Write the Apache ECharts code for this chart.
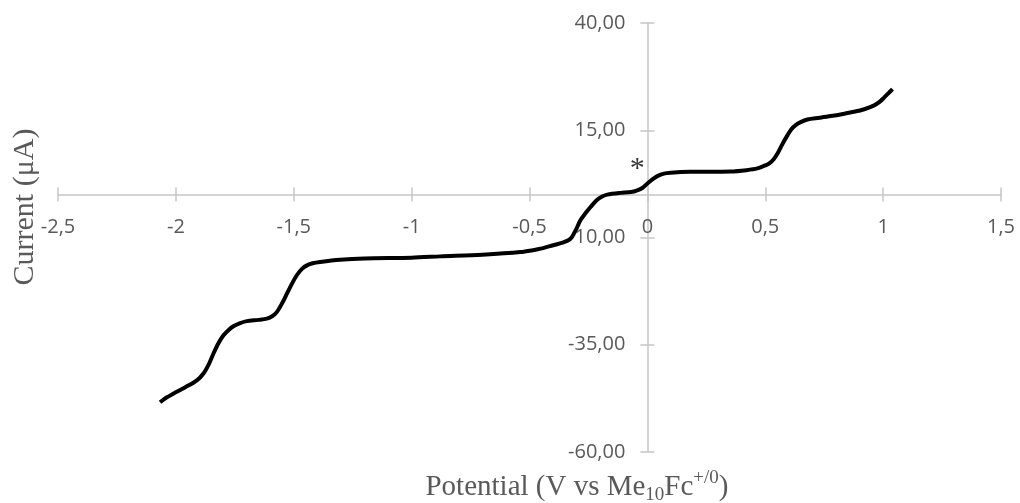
<!DOCTYPE html>
<html>
<head>
<meta charset="utf-8">
<script src="https://cdn.jsdelivr.net/npm/echarts@6/dist/echarts.min.js"></script>
<style>
html,body{margin:0;padding:0;background:#fff;}
#chart{width:1020px;height:503px;}
</style>
</head>
<body>
<div id="chart"></div>
<script>
// Potential (V vs Me10Fc+/0)
const potential = [
  -2.067, -2.04, -2.011, -1.96, -1.911, -1.883, -1.86, -1.841, -1.82, -1.798,
  -1.775, -1.756, -1.73, -1.699, -1.65, -1.614, -1.59, -1.572, -1.55, -1.529,
  -1.508, -1.487, -1.465, -1.444, -1.42, -1.388, -1.303, -1.2, -1.0, -0.878,
  -0.7, -0.538, -0.48, -0.453, -0.40, -0.36, -0.326, -0.305, -0.284, -0.262,
  -0.241, -0.213, -0.19, -0.170, -0.114, -0.07, -0.043, -0.02, 0.0, 0.02,
  0.042, 0.07, 0.099, 0.183, 0.353, 0.42, 0.467, 0.50, 0.516, 0.535,
  0.552, 0.573, 0.594, 0.61, 0.629, 0.65, 0.679, 0.73, 0.778, 0.83,
  0.877, 0.92, 0.962, 0.985, 1.004, 1.022, 1.040
];
// Current (µA)
const current = [
  -48.4, -47.3, -46.4, -44.9, -43.3, -41.7, -39.5, -37.1, -34.7, -32.8,
  -31.5, -30.7, -30.0, -29.5, -29.2, -28.9, -28.3, -27.4, -25.4, -23.1,
  -20.8, -18.8, -17.3, -16.5, -16.0, -15.7, -15.2, -14.9, -14.7, -14.4,
  -14.0, -13.4, -12.9, -12.6, -11.8, -11.2, -10.3, -8.4, -6.0, -4.3,
  -2.9, -1.2, -0.4, 0.0, 0.4, 0.6, 1.0, 1.6, 2.6, 3.5,
  4.3, 4.9, 5.1, 5.3, 5.4, 5.7, 6.1, 6.8, 7.2, 8.2,
  9.6, 11.8, 13.8, 15.2, 16.2, 16.9, 17.5, 17.9, 18.3, 18.8,
  19.3, 19.9, 20.8, 21.6, 22.6, 23.6, 24.6
];
// Asterisk marker position
const asterisk = [[-0.043, 5.9]];
// Axis tick values
const yTicks = [-60, -35, -10, 15, 40];
const xRange = [-2.5, 1.5];
const yRange = [-60, 40];

const axisGray = '#c6c6c6';
const textGray = '#595959';
const tickFont = { fontFamily: 'Open Sans', fontSize: 20, color: textGray };

const chart = echarts.init(document.getElementById('chart'), null, { renderer: 'canvas' });
const lineData = potential.map((x, i) => [x, current[i]]);

const GRID = { left: 58, right: 19, top: 23, bottom: 51 };

function xAxisDef(inside, offset) {
  return {
    type: 'value', min: xRange[0], max: xRange[1], interval: 0.5, position: 'bottom', offset: offset,
    axisLine: { show: !inside, onZero: false, lineStyle: { color: axisGray, width: 1.5 } },
    axisTick: { show: true, inside: inside, length: 7, lineStyle: { color: axisGray, width: 1.5 } },
    axisLabel: inside ? { show: false } : Object.assign({ margin: 23, formatter: v => String(v).replace('.', ',') }, tickFont),
    splitLine: { show: false }
  };
}
function yAxisDef(inside, offset) {
  return {
    type: 'value', min: yRange[0], max: yRange[1], position: 'left', offset: offset,
    axisLine: { show: !inside, onZero: false, lineStyle: { color: axisGray, width: 1.5 } },
    axisTick: { show: true, inside: inside, length: 7, customValues: yTicks, lineStyle: { color: axisGray, width: 1.5 } },
    axisLabel: inside ? { show: false } : Object.assign({ margin: 22, customValues: yTicks, formatter: v => v.toFixed(2).replace('.', ',') }, tickFont),
    splitLine: { show: false }
  };
}

function buildOption(xOff, yOff) {
  return {
    animation: false,
    grid: Object.assign({ containLabel: false, outerBoundsMode: 'none' }, GRID),
    xAxis: [xAxisDef(false, xOff), xAxisDef(true, xOff)],
    yAxis: [yAxisDef(false, yOff), yAxisDef(true, yOff)],
    series: [
      {
        type: 'line', xAxisIndex: 0, yAxisIndex: 0, data: lineData,
        showSymbol: false, smooth: 0.3,
        lineStyle: { color: '#000', width: 4 }
      },
      {
        type: 'scatter', xAxisIndex: 0, yAxisIndex: 0, data: asterisk,
        symbolSize: 0,
        label: { show: true, position: 'inside', formatter: '*', fontFamily: 'Liberation Serif', fontSize: 30, color: '#000' }
      }
    ],
    graphic: [
      {
        type: 'text', x: 25, y: 207, rotation: Math.PI / 2,
        style: { text: 'Current (μA)', font: '30px "Liberation Serif"', fill: textGray, align: 'center', verticalAlign: 'middle' }
      },
      {
        type: 'text', x: 577, y: 487,
        style: {
          text: 'Potential (V vs Me{sub|10}Fc{sup|+/0})',
          font: '29px "Liberation Serif"', fill: textGray, align: 'center', verticalAlign: 'middle',
          lineHeight: 36,
          rich: {
            sub: { fontSize: 19, fontFamily: 'Liberation Serif', fill: textGray, verticalAlign: 'bottom', lineHeight: 18 },
            sup: { fontSize: 19, fontFamily: 'Liberation Serif', fill: textGray, verticalAlign: 'top', lineHeight: 18 }
          }
        }
      }
    ]
  };
}

chart.setOption(buildOption(0, 0));
// Move the axes so they cross at (0, 0), as in the reference
const origin = chart.convertToPixel({ xAxisIndex: 0, yAxisIndex: 0 }, [0, 0]);
const gridBottom = 503 - GRID.bottom;
const xOff = -(gridBottom - origin[1]);
const yOff = -(origin[0] - GRID.left);
chart.setOption(buildOption(xOff, yOff), true);
</script>
</body>
</html>
